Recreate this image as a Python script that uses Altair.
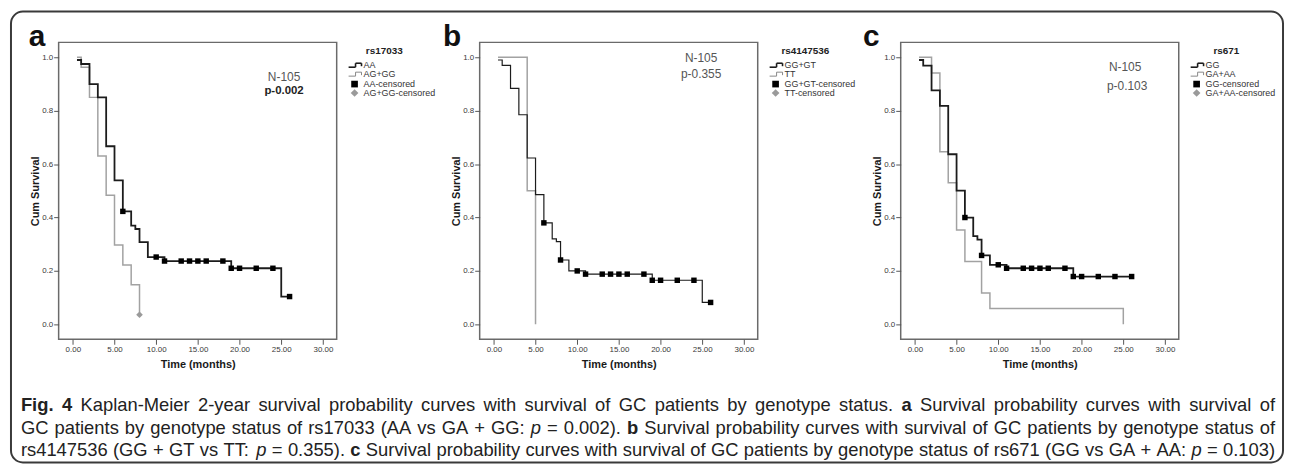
import altair as alt
import pandas as pd

# ---------------- data ----------------
# Panel a : rs17033
a_blk_t = [0.5, 1, 2, 3, 4, 5, 6, 7, 7.5, 8, 9, 11, 19, 25, 26]
a_blk_s = [0.99, 0.975, 0.90, 0.85, 0.667, 0.539, 0.423, 0.37, 0.357, 0.308, 0.252, 0.237, 0.21, 0.104, 0.104]
a_gry_t = [0.5, 1, 2, 3, 4, 5, 6, 7, 8]
a_gry_s = [1.0, 0.963, 0.85, 0.63, 0.483, 0.297, 0.222, 0.148, 0.036]
a_cen_t = [6, 10, 11, 13, 14, 15, 16, 18, 19, 20, 22, 24, 26]
a_cen_s = [0.423, 0.252, 0.237, 0.237, 0.237, 0.237, 0.237, 0.237, 0.21, 0.21, 0.21, 0.21, 0.104]
a_gcen_t = [8]
a_gcen_s = [0.036]

# Panel b : rs4147536
b_blk_t = [0.5, 1, 2, 3, 4, 5, 6, 7, 7.5, 8, 9, 11, 19, 25, 26]
b_blk_s = [0.99, 0.97, 0.884, 0.785, 0.623, 0.486, 0.38, 0.32, 0.31, 0.241, 0.2, 0.188, 0.165, 0.082, 0.082]
b_gry_t = [0.5, 4, 5]
b_gry_s = [1.0, 0.5, 0.0]
b_cen_t = [6, 8, 10, 11, 13, 14, 15, 16, 18, 19, 20, 22, 24, 26]
b_cen_s = [0.38, 0.241, 0.2, 0.188, 0.188, 0.188, 0.188, 0.188, 0.188, 0.165, 0.165, 0.165, 0.165, 0.082]

# Panel c : rs671
c_blk_t = [0.5, 1, 2, 3, 4, 5, 6, 7, 7.5, 8, 9, 11, 19, 26]
c_blk_s = [0.99, 0.969, 0.876, 0.818, 0.637, 0.501, 0.40, 0.33, 0.317, 0.258, 0.223, 0.21, 0.179, 0.179]
c_gry_t = [0.5, 2, 3, 4, 5, 6, 8, 9, 25]
c_gry_s = [1.0, 0.941, 0.646, 0.53, 0.353, 0.235, 0.117, 0.059, 0.0]
c_cen_t = [6, 8, 10, 11, 13, 14, 15, 16, 18, 19, 20, 22, 24, 26]
c_cen_s = [0.40, 0.258, 0.223, 0.21, 0.21, 0.21, 0.21, 0.21, 0.21, 0.179, 0.179, 0.179, 0.179, 0.179]

x_ticks = [0, 5, 10, 15, 20, 25, 30]
y_ticks = [0.0, 0.2, 0.4, 0.6, 0.8, 1.0]

legend_titles = ["rs17033", "rs4147536", "rs671"]
legend_labels = [
    ["AA", "AG+GG", "AA-censored", "AG+GG-censored"],
    ["GG+GT", "TT", "GG+GT-censored", "TT-censored"],
    ["GG", "GA+AA", "GG-censored", "GA+AA-censored"],
]
n_text = "N-105"
p_texts = ["p-0.002", "p-0.355", "p-0.103"]
letters = ["a", "b", "c"]

caption = [
    [("Fig. 4", "bold"),
     ("Kaplan-Meier 2-year survival probability curves with survival of GC patients by genotype status.", "normal"),
     ("a", "bold"), ("Survival probability curves with survival of", "normal")],
    [("GC patients by genotype status of rs17033 (AA vs GA + GG:", "normal"), ("p", "italic"), ("= 0.002).", "normal"),
     ("b", "bold"), ("Survival probability curves with survival of GC patients by genotype status of", "normal")],
    [("rs4147536 (GG + GT vs TT:", "normal"), ("p", "italic"), ("= 0.355).", "normal"), ("c", "bold"),
     ("Survival probability curves with survival of GC patients by genotype status of rs671 (GG vs GA + AA:", "normal"),
     ("p", "italic"), ("= 0.103)", "normal")],
]

FONT = "Liberation Sans"
BLACK = "#1c1c1c"
GRAY = "#a2a2a2"
W, H = 280, 299

one = pd.DataFrame({"k": [0]})

# Liberation Sans (Arial-compatible) advance widths, per 1000 em, used to lay out the justified caption
_reg = {' ': 278, '(': 333, ')': 333, '+': 584, ',': 278, '-': 333, '.': 278, ':': 278, '=': 584,
        'A': 667, 'C': 722, 'F': 611, 'G': 778, 'K': 667, 'M': 833, 'S': 667, 'T': 611}
for ch in "0123456789":
    _reg[ch] = 556
_reg.update(dict(zip("abcdefghijklmnopqrstuvwxyz",
                     [556, 556, 500, 556, 556, 278, 556, 556, 222, 222, 500, 222, 833, 556, 556, 556, 556, 333,
                      500, 278, 556, 500, 722, 500, 500, 500])))
_bold = {'F': 611, 'i': 278, 'g': 611, '.': 278, '4': 556, 'a': 556, 'b': 611, 'c': 556, ' ': 278}


def word_w(w, style):
    tab = _bold if style == "bold" else _reg
    return sum(tab.get(ch, 556) for ch in w) / 1000.0


def txt(s, x, y, size, weight="normal", color="#222", align="center", font=FONT, baseline="middle", style="normal"):
    return alt.Chart(one).mark_text(text=s, fontSize=size, fontWeight=weight, fontStyle=style, color=color,
                                    align=align, baseline=baseline, font=font).encode(x=alt.value(x), y=alt.value(y))


def rule(x1, x2, y1, y2, color, w):
    return alt.Chart(one).mark_rule(color=color, strokeWidth=w).encode(
        x=alt.value(x1), x2=alt.value(x2), y=alt.value(y1), y2=alt.value(y2))


def sym(shape, x, y, size, color):
    return alt.Chart(one).mark_point(shape=shape, filled=True, size=size, color=color, opacity=1).encode(
        x=alt.value(x), y=alt.value(y))


def step_icon(x0, y, color, w):
    return [rule(x0, x0 + 7, y + 2, y + 2, color, w), rule(x0 + 7, x0 + 7, y + 2, y - 2, color, w),
            rule(x0 + 7, x0 + 13, y - 2, y - 2, color, w), rule(x0 + 13, x0 + 13, y - 2, y + 1, color, w)]


def caption_layers(x_left, x_right, ys):
    lines = []
    for line in caption:
        words = []
        for seg, st in line:
            for w in seg.split(" "):
                words.append((w, st))
        lines.append(words)
    span = x_right - x_left
    nat = [sum(word_w(w, s) for w, s in ws) + 0.278 * (len(ws) - 1) for ws in lines]
    fs = span / max(nat) * 0.995
    out = []
    for ws, y in zip(lines, ys):
        tot = sum(word_w(w, s) for w, s in ws) * fs
        gap = (span - tot) / (len(ws) - 1)
        x = x_left
        for w, s in ws:
            out.append(txt(w, round(x, 2), y, round(fs, 2), weight="bold" if s == "bold" else "normal",
                           style="italic" if s == "italic" else "normal", color="#222", align="left"))
            x += word_w(w, s) * fs + gap
    return out


xs = alt.Scale(domain=[-1.7, 31.65], nice=False, zero=False)
ys_ = alt.Scale(domain=[-0.056, 1.056], nice=False, zero=False)
X = alt.X("t:Q", scale=xs, axis=alt.Axis(values=x_ticks, format=".2f", title="Time (months)"))
Y = alt.Y("s:Q", scale=ys_, axis=alt.Axis(values=y_ticks, format=".1f", title="Cum Survival"))


def panel(i, bt, bs, gt, gs, ct, cs, gct, gcs, blk_w, ann):
    gl = alt.Chart(pd.DataFrame({"t": gt, "s": gs})).mark_line(
        interpolate="step-after", color=GRAY, strokeWidth=1.5).encode(x=X, y=Y)
    bl = alt.Chart(pd.DataFrame({"t": bt, "s": bs})).mark_line(
        interpolate="step-after", color=BLACK, strokeWidth=blk_w).encode(x=X, y=Y)
    cp = alt.Chart(pd.DataFrame({"t": ct, "s": cs})).mark_point(
        shape="square", filled=True, size=30, color="#000", opacity=1).encode(x=X, y=Y)
    layers = [gl, bl, cp]
    if gct:
        layers.append(alt.Chart(pd.DataFrame({"t": gct, "s": gcs})).mark_point(
            shape="diamond", filled=True, size=45, color="#9a9a9a", opacity=1).encode(x=X, y=Y))
    # annotations
    (nx, ny, px, py, pbold) = ann
    layers.append(txt(n_text, nx, ny, 12, color="#555"))
    layers.append(txt(p_texts[i], px, py, 12 if not pbold else 11.5,
                      weight="bold" if pbold else "normal", color="#222" if pbold else "#555"))
    # panel letter
    lx = [-30, -37, -38][i]
    layers.append(txt(letters[i], lx, 10, 30, weight="bold", color="#111", align="left", baseline="bottom"))
    # legend
    layers.append(txt(legend_titles[i], 328, 9, 10, weight="bold", color="#222"))
    rows = [23, 32, 42, 51]
    layers += step_icon(292, rows[0], BLACK, 1.6)
    layers += step_icon(292, rows[1], "#888", 1.0)
    layers.append(sym("square", 298, rows[2], 45, "#000"))
    layers.append(sym("diamond", 298, rows[3], 60, "#9a9a9a"))
    for r, lab in zip(rows, legend_labels[i]):
        layers.append(txt(lab, 307, r, 9, color="#333", align="left"))
    if i == 0:
        # outer rounded frame
        layers.insert(0, alt.Chart(one).mark_rect(filled=False, color="#3a3a3a", strokeWidth=2, cornerRadius=12).encode(
            x=alt.value(-48), x2=alt.value(1233), y=alt.value(-31), y2=alt.value(423)))
        # caption (figure legend), justified between page x 20 and 1283
        layers += caption_layers(-38, 1225, [365, 388, 411])
    return alt.layer(*layers).properties(width=W, height=H)


pa = panel(0, a_blk_t, a_blk_s, a_gry_t, a_gry_s, a_cen_t, a_cen_s, a_gcen_t, a_gcen_s, 1.8,
           (227, 35, 227, 49, True))
pb = panel(1, b_blk_t, b_blk_s, b_gry_t, b_gry_s, b_cen_t, b_cen_s, [], [], 1.2,
           (223, 16, 223, 32, False))
pc = panel(2, c_blk_t, c_blk_s, c_gry_t, c_gry_s, c_cen_t, c_cen_s, [], [], 1.8,
           (226, 25, 228, 44, False))

chart = alt.hconcat(pa, pb, pc, spacing=144, bounds="flush").properties(
    padding={"left": 1, "top": 0, "right": 0, "bottom": 0}
).configure_view(stroke="#6a6a6a", strokeWidth=1.5).configure_axis(
    domain=False, grid=False, labelFont=FONT, labelFontSize=8, labelColor="#3a3a3a",
    tickColor="#555", tickSize=5, tickWidth=1, labelPadding=1,
    titleFont=FONT, titleFontSize=11, titleFontWeight="bold", titleColor="#1a1a1a"
).configure_axisX(titlePadding=5).configure_axisY(titlePadding=1)

chart.save("out.html", embed_options={"renderer": "svg", "actions": False})
